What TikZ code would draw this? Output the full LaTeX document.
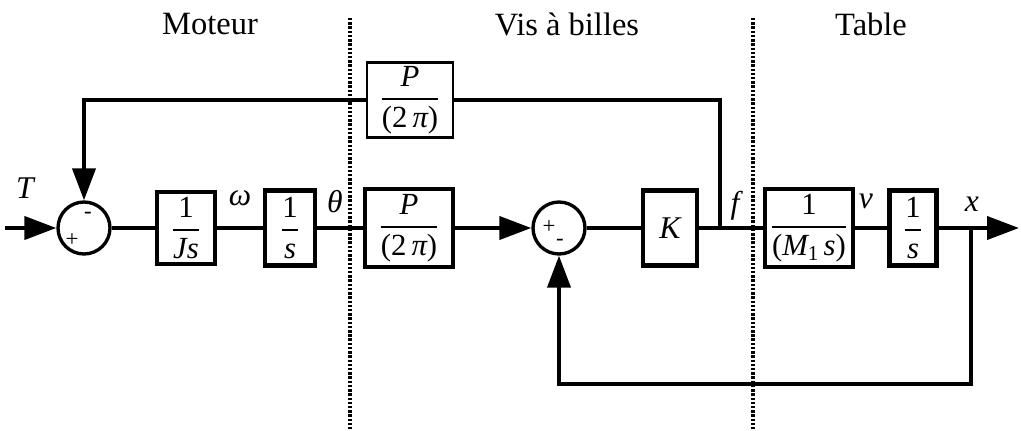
\documentclass[tikz,border=0pt]{standalone}
\usepackage{fontspec}
\usepackage{amsmath}
\setmainfont{Liberation Serif}
\usetikzlibrary{arrows.meta}
\newcommand{\myfrac}[2]{\(\genfrac{}{}{1pt}{0}{\mbox{#1}}{\mbox{#2}}\)}
\begin{document}
\begin{tikzpicture}[x=0.02cm,y=-0.02cm,
 blk/.style={draw, line width=2.6pt, inner sep=0pt, font=\fontsize{17.5}{19}\selectfont},
 sumc/.style={draw, circle, line width=1.9pt, minimum size=1.04cm, inner sep=0pt},
 sig/.style={line width=2.3pt},
 arr/.style={sig, -{Triangle[length=0.64cm,width=0.46cm]}},
 lbl/.style={font=\fontsize{18}{20}\selectfont\itshape, inner sep=0pt},
 sec/.style={font=\fontsize{18.5}{21}\selectfont, inner sep=0pt},
 sep/.style={line width=2.6pt, dash pattern=on 1.4pt off 1pt},
 pm/.style={font=\fontsize{13}{14}\selectfont, inner sep=0pt}
]
\useasboundingbox (0,0) rectangle (1021,430);

% section titles
\node[sec] (moteur) at (210,24) {Moteur};
\node[sec] (vis) at (567,24) {Vis à billes};
\node[sec] (table) at (871,24) {Table};

% summing junctions
\node[sumc] (s1) at (84,228) {};
\node[pm] (s1p) at (72,240) {+};
\node[pm] (s1m) at (88,215) {-};
\node[sumc] (s2) at (559,228) {};
\node[pm] (s2p) at (549,227) {+};
\node[pm] (s2m) at (560,242) {-};

% blocks
\node[blk, minimum width=1.16cm, minimum height=1.44cm] (b1) at (186,228) {\myfrac{1}{\itshape Js}};
\node[blk, minimum width=1.0cm, minimum height=1.5cm] (b2) at (290,228) {\myfrac{1}{\itshape s}};
\node[blk, minimum width=1.76cm, minimum height=1.56cm] (b3) at (409,228) {\myfrac{\itshape P}{(2\,\itshape π\upshape)}};
\node[blk, line width=1.3pt, minimum width=1.72cm, minimum height=1.5cm] (b4) at (410,100) {\myfrac{\itshape P}{(2\,\itshape π\upshape)}};
\node[blk, minimum width=1.08cm, minimum height=1.5cm, font=\fontsize{18}{20}\selectfont\itshape] (bk) at (670,228) {K};
\node[blk, minimum width=1.76cm, minimum height=1.56cm] (b5) at (809,228) {\myfrac{1}{(\itshape M\upshape\raisebox{-0.35ex}{\fontsize{12}{13}\selectfont 1}\,\itshape s\upshape)}};
\node[blk, minimum width=0.94cm, minimum height=1.5cm] (b6) at (913,228) {\myfrac{1}{\itshape s}};

% signal labels
\node[lbl] (T) at (25,188) {T};
\node[lbl] (w) at (240,198) {ω};
\node[lbl] (th) at (335,202) {θ};
\node[lbl] (f) at (735,206) {f};
\node[lbl] (v) at (866,201) {v};
\node[lbl] (xl) at (972,204) {x};

% coordinates
\coordinate (in) at (5,228);
\coordinate (br1) at (720,228);
\coordinate (br2) at (971,228);
\coordinate (br2b) at (971,384);
\coordinate (out) at (1019,228);

% connectors
\draw[arr] (in) -- (s1);
\draw[sig] (s1) -- (b1);
\draw[sig] (b1) -- (b2);
\draw[sig] (b2) -- (b3);
\draw[arr] (b3) -- (s2);
\draw[sig] (s2) -- (bk);
\draw[sig] (bk) -- (b5);
\draw[sig] (b5) -- (b6);
\draw[arr] (b6) -- (out);
\draw[sig] (br1) |- (b4);
\draw[arr] (b4) -| (s1);
\draw[arr] (br2) -- (br2b) -| (s2);

% separators
\draw[sep] (350,18) -- (350,430);
\draw[sep] (753,18) -- (753,430);
\end{tikzpicture}
\end{document}
